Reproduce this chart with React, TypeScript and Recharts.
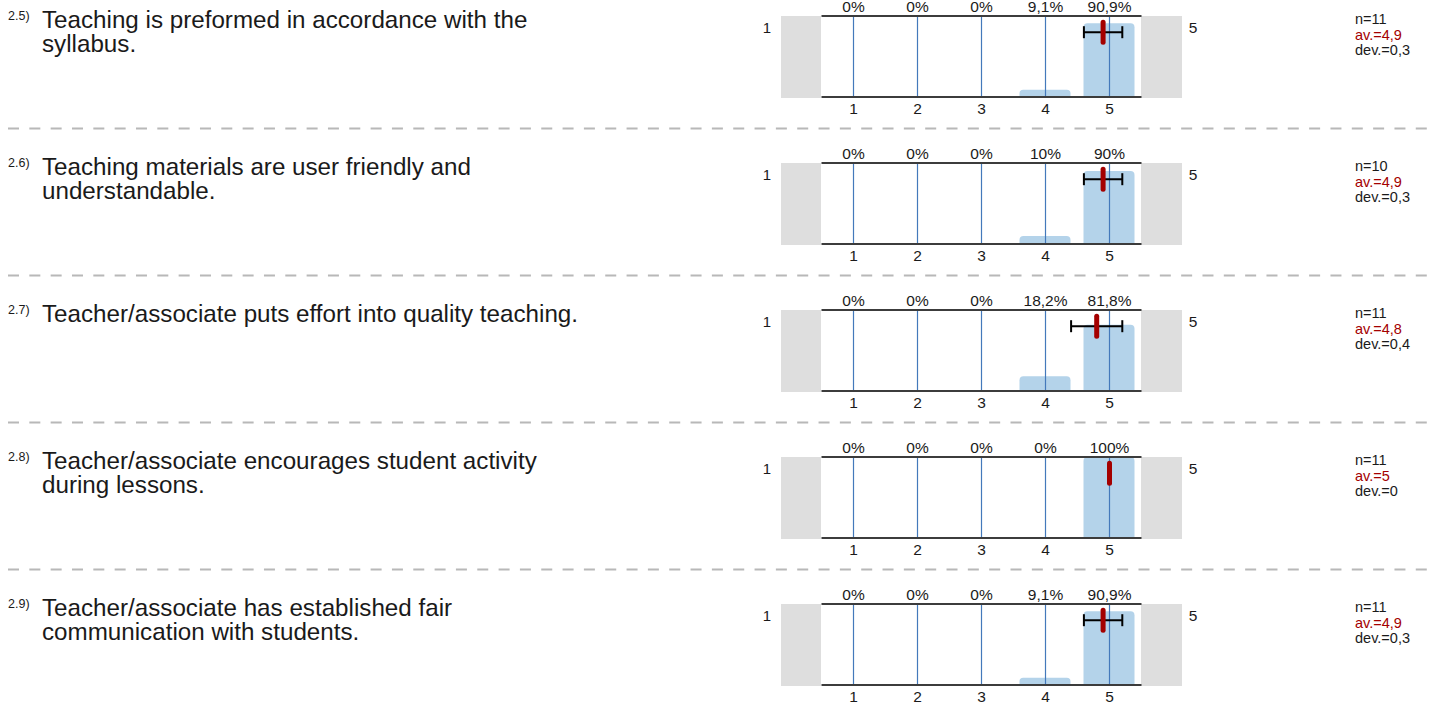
import React from 'react'
import {
  ComposedChart,
  Bar,
  Scatter,
  ErrorBar,
  XAxis,
  YAxis,
  ReferenceLine,
} from 'recharts'

const categories = [1, 2, 3, 4, 5]
const itemCodes = ['2.5)', '2.6)', '2.7)', '2.8)', '2.9)']
const itemLines = [
  ['Teaching is preformed in accordance with the', 'syllabus.'],
  ['Teaching materials are user friendly and', 'understandable.'],
  ['Teacher/associate puts effort into quality teaching.'],
  ['Teacher/associate encourages student activity', 'during lessons.'],
  ['Teacher/associate has established fair', 'communication with students.'],
]
const percentRows = [
  [0, 0, 0, 9.1, 90.9],
  [0, 0, 0, 10, 90],
  [0, 0, 0, 18.2, 81.8],
  [0, 0, 0, 0, 100],
  [0, 0, 0, 9.1, 90.9],
]
const respondents = [11, 10, 11, 11, 11]
const averages = [4.9, 4.9, 4.8, 5, 4.9]
const deviations = [0.3, 0.3, 0.4, 0, 0.3]
const scaleEnds = ['1', '5']
// height (in % of the bar scale) where the mean marker sits
const markerLevel = 80

const FONT = "'Liberation Sans', Arial, sans-serif"
const ROW_STEP = 147
const BAR_BLUE = '#b4d3ea'
const GRID_BLUE = '#4479bb'
const DARK_RED = '#a40000'

const comma = (v: number) => String(v).replace('.', ',')

const MeanMarker = (props: any) => {
  const { cx, cy } = props
  return (
    <line
      x1={cx}
      x2={cx}
      y1={cy - 10}
      y2={cy + 10}
      stroke={DARK_RED}
      strokeWidth={5}
      strokeLinecap="round"
    />
  )
}

function Row({ i }: { i: number }) {
  const top = i * ROW_STEP
  const pcts = percentRows[i]
  const bars = categories.map((c, k) => ({ x: c, pct: pcts[k] }))
  const mean = [{ x: averages[i], y: markerLevel, dev: deviations[i] }]
  const tickStyle = { fontSize: 15.5, fill: '#1a1a1a', fontFamily: FONT }

  return (
    <>
      <div style={{ position: 'absolute', left: 8, top: top + 10, fontSize: 12.5, lineHeight: '13px' }}>
        {itemCodes[i]}
      </div>
      <div
        style={{
          position: 'absolute',
          left: 42,
          top: top + 8,
          fontSize: 24.2,
          lineHeight: '23.5px',
          whiteSpace: 'nowrap',
        }}
      >
        {itemLines[i].map((l) => (
          <div key={l}>{l}</div>
        ))}
      </div>

      <div style={{ position: 'absolute', left: 781, top: top + 16, width: 40, height: 82, background: '#dedede' }} />
      <div style={{ position: 'absolute', left: 1141, top: top + 16, width: 41, height: 82, background: '#dedede' }} />
      <div style={{ position: 'absolute', left: 757, top: top + 20, width: 20, textAlign: 'center', fontSize: 15, lineHeight: '15px' }}>
        {scaleEnds[0]}
      </div>
      <div style={{ position: 'absolute', left: 1183, top: top + 20, width: 20, textAlign: 'center', fontSize: 15.5, lineHeight: '15px' }}>
        {scaleEnds[1]}
      </div>

      <div style={{ position: 'absolute', left: 761, top }}>
        <ComposedChart
          width={450}
          height={125}
          data={bars}
          margin={{ top: 0, right: 69.5, bottom: 0, left: 60.5 }}
        >
          <XAxis
            xAxisId="top"
            orientation="top"
            type="number"
            dataKey="x"
            domain={[0.5, 5.5]}
            ticks={categories}
            height={16}
            tickLine={false}
            tickSize={0}
            tickMargin={4}
            axisLine={{ stroke: '#3c3c3c', strokeWidth: 2 }}
            tick={tickStyle}
            tickFormatter={(v: number) => comma(pcts[v - 1]) + '%'}
            interval={0}
          />
          <XAxis
            xAxisId="bottom"
            type="number"
            dataKey="x"
            domain={[0.5, 5.5]}
            ticks={categories}
            height={28}
            tickLine={false}
            tickSize={0}
            tickMargin={6}
            axisLine={{ stroke: '#3c3c3c', strokeWidth: 2 }}
            tick={tickStyle}
            interval={0}
          />
          <YAxis hide domain={[0, 100]} />
          <Bar
            xAxisId="bottom"
            dataKey="pct"
            fill={BAR_BLUE}
            barSize={51}
            radius={[4, 4, 0, 0]}
            isAnimationActive={false}
          />
          {categories.map((c) => (
            <ReferenceLine key={c} xAxisId="bottom" x={c} stroke={GRID_BLUE} strokeWidth={1.2} />
          ))}
          <Scatter
            xAxisId="top"
            data={mean}
            dataKey="y"
            shape={MeanMarker}
            isAnimationActive={false}
          >
            <ErrorBar dataKey="dev" direction="x" width={6} stroke="#000" strokeWidth={2} />
          </Scatter>
        </ComposedChart>
      </div>

      <div style={{ position: 'absolute', left: 1355, top: top + 12, fontSize: 14.5, lineHeight: '15.5px' }}>
        <div>n={respondents[i]}</div>
        <div style={{ color: DARK_RED }}>av.={comma(averages[i])}</div>
        <div>dev.={comma(deviations[i])}</div>
      </div>
    </>
  )
}

export default function App() {
  return (
    <div
      style={{
        position: 'absolute',
        left: 0,
        top: 0,
        width: 1437,
        height: 704,
        overflow: 'hidden',
        background: '#fff',
        fontFamily: FONT,
        color: '#1a1a1a',
      }}
    >
      {itemCodes.map((_, i) => (
        <Row key={i} i={i} />
      ))}
      <svg width={1437} height={704} style={{ position: 'absolute', left: 0, top: 0, pointerEvents: 'none' }}>
        {itemCodes.slice(1).map((_, k) => (
          <line
            key={k}
            x1={8}
            x2={1437}
            y1={128.5 + k * ROW_STEP}
            y2={128.5 + k * ROW_STEP}
            stroke="#b8b8b8"
            strokeWidth={2}
            strokeDasharray="11 10.33"
          />
        ))}
      </svg>
    </div>
  )
}
